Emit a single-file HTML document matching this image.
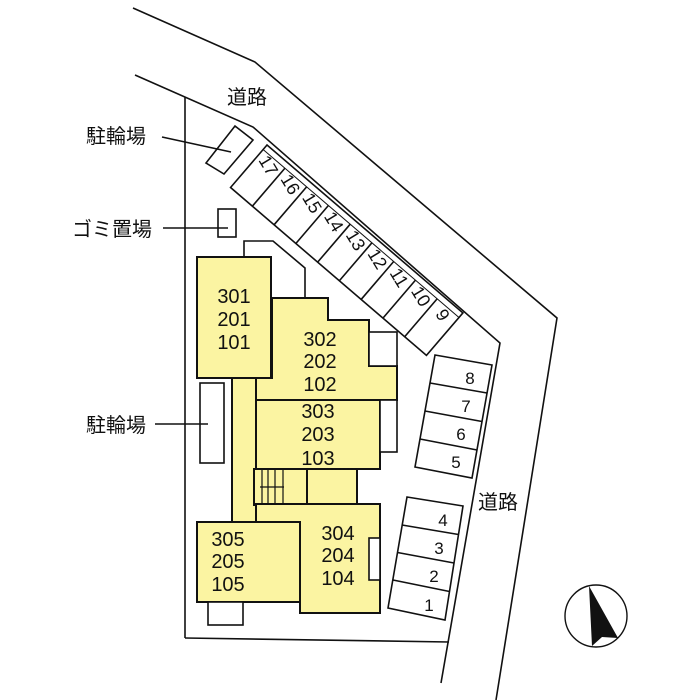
<!DOCTYPE html>
<html><head><meta charset="utf-8"><style>body{margin:0;background:#fff}svg{display:block}text{font-family:"Liberation Sans","Noto Sans CJK JP",sans-serif;fill:#111}</style></head><body>
<svg width="700" height="700" viewBox="0 0 700 700" xmlns="http://www.w3.org/2000/svg">
<g fill="none" stroke="#111" stroke-width="1.6">
<polyline points="133,8 255,62 557,318 496,700"/>
<polyline points="135,75 253,127 500,343 441,683"/>
<line x1="185" y1="97" x2="185" y2="638"/>
<line x1="185" y1="638" x2="449" y2="642"/>
<polyline points="244,257 244,241 273,241 305,268 305,297"/>
<polygon points="235,126 253,140 224,174 206,163"/>
<rect x="200" y="383" width="24" height="80"/>
<rect x="218" y="209" width="18" height="28"/>
<line x1="162" y1="137" x2="231" y2="152"/>
<line x1="163" y1="228" x2="228" y2="228"/>
<line x1="155" y1="424" x2="208" y2="424"/>
</g>
<g transform="translate(267,145) rotate(40.6)" stroke="#111" stroke-width="1.6" fill="none">
<rect x="0" y="0" width="258" height="56"/>
<line x1="0" y1="6" x2="258" y2="6" stroke-width="1"/>
<line x1="28.7" y1="6" x2="28.7" y2="56"/><line x1="57.3" y1="6" x2="57.3" y2="56"/><line x1="86" y1="6" x2="86" y2="56"/>
<line x1="114.7" y1="6" x2="114.7" y2="56"/><line x1="143.3" y1="6" x2="143.3" y2="56"/><line x1="172" y1="6" x2="172" y2="56"/>
<line x1="200.7" y1="6" x2="200.7" y2="56"/><line x1="229.3" y1="6" x2="229.3" y2="56"/>
<g stroke="none" fill="#111" font-size="18">
<text transform="translate(14,16) rotate(18)" text-anchor="middle" dominant-baseline="middle">17</text>
<text transform="translate(43,16) rotate(18)" text-anchor="middle" dominant-baseline="middle">16</text>
<text transform="translate(71.6,16) rotate(18)" text-anchor="middle" dominant-baseline="middle">15</text>
<text transform="translate(100.3,16) rotate(18)" text-anchor="middle" dominant-baseline="middle">14</text>
<text transform="translate(129,16) rotate(18)" text-anchor="middle" dominant-baseline="middle">13</text>
<text transform="translate(157.6,16) rotate(18)" text-anchor="middle" dominant-baseline="middle">12</text>
<text transform="translate(186.3,16) rotate(18)" text-anchor="middle" dominant-baseline="middle">11</text>
<text transform="translate(215,16) rotate(18)" text-anchor="middle" dominant-baseline="middle">10</text>
<text transform="translate(243.6,16) rotate(18)" text-anchor="middle" dominant-baseline="middle">9</text>
</g>
</g>
<g stroke="#111" stroke-width="1.6" fill="none">
<polygon points="435,355 492,365 472,478 415,467"/>
<line x1="430" y1="383" x2="487" y2="393"/><line x1="425" y1="411" x2="482" y2="421.5"/><line x1="420" y1="439" x2="477" y2="450"/>
<polygon points="407,497 463,506 445,620 388,608"/>
<line x1="402" y1="525" x2="458.5" y2="534.5"/><line x1="397.5" y1="552.5" x2="454" y2="563"/><line x1="393" y1="580" x2="449.5" y2="591.5"/>
</g>
<g font-size="17" text-anchor="middle">
<text x="470" y="384">8</text><text x="466" y="412">7</text><text x="461" y="440">6</text><text x="456" y="468">5</text>
<text x="443" y="526">4</text><text x="439" y="554">3</text><text x="434" y="582">2</text><text x="429" y="611">1</text>
</g>
<g fill="#fbf4a2" stroke="#111" stroke-width="2">
<rect x="232" y="378" width="24" height="145"/>
<rect x="254" y="469" width="103" height="36"/>
<polygon points="272,298 328,298 328,320 369,320 369,366 397,366 397,400 256,400 256,378 272,378"/>
<rect x="256" y="400" width="124" height="69"/>
<rect x="197" y="257" width="74" height="121"/>
<polygon points="256,504 380,504 380,613 300,613 300,538 256,538"/>
<rect x="197" y="522" width="103" height="80"/>
</g>
<g fill="#fff" stroke="#111" stroke-width="1.6">
<rect x="369" y="332" width="28" height="34"/>
<rect x="380" y="400" width="17" height="52"/>
<rect x="369" y="538" width="11" height="42"/>
<rect x="208" y="602" width="35" height="23"/>
</g>
<g stroke="#111" stroke-width="1.2">
<line x1="262" y1="470" x2="262" y2="504"/><line x1="268" y1="470" x2="268" y2="504"/><line x1="275" y1="470" x2="275" y2="504"/><line x1="283" y1="470" x2="283" y2="504"/>
<line x1="260" y1="487" x2="284" y2="487"/>
<line x1="307" y1="469" x2="307" y2="504" stroke-width="2"/>
<line x1="307" y1="469" x2="357" y2="469" stroke-dasharray="2,2"/>
</g>
<g font-size="20" text-anchor="middle">
<text x="234" y="303">301</text><text x="234" y="326">201</text><text x="234" y="349">101</text>
<text x="320" y="346">302</text><text x="320" y="368">202</text><text x="320" y="391">102</text>
<text x="318" y="418">303</text><text x="318" y="441">203</text><text x="318" y="465">103</text>
<text x="338" y="540">304</text><text x="338" y="562">204</text><text x="338" y="585">104</text>
<text x="228" y="546">305</text><text x="228" y="568">205</text><text x="228" y="591">105</text>
</g>
<g font-size="20">
<text x="86" y="143">駐輪場</text>
<text x="72" y="236">ゴミ置場</text>
<text x="86" y="432">駐輪場</text>
<text x="227" y="104">道路</text>
<text x="478" y="509">道路</text>
</g>
<circle cx="596" cy="616" r="31" fill="none" stroke="#111" stroke-width="1.4"/>
<polygon points="589,586 618,638 602,637 592,646" fill="#111"/>
</svg>
</body></html>
